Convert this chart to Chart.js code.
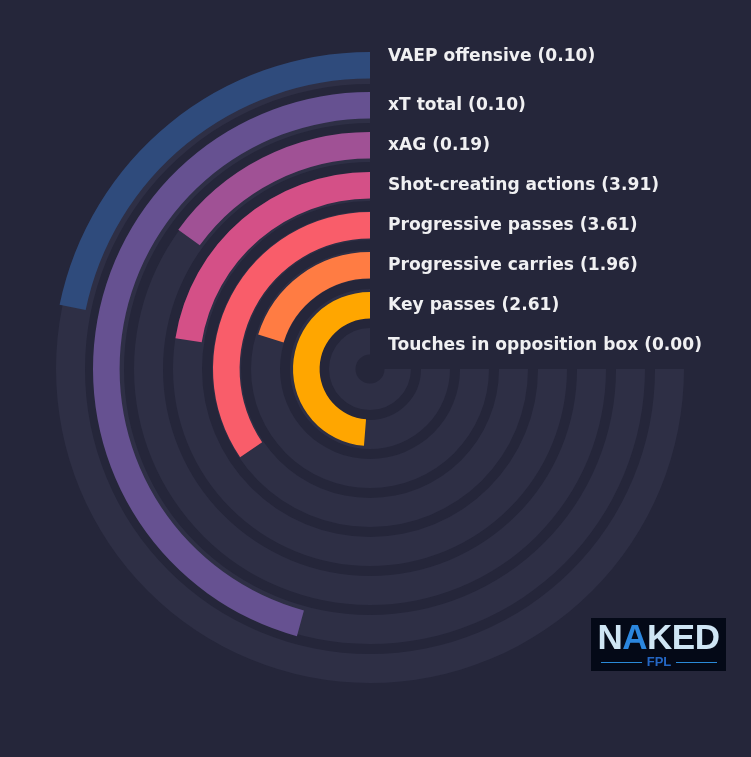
<!DOCTYPE html>
<html>
<head>
<meta charset="utf-8">
<script src="https://cdn.jsdelivr.net/npm/chart.js@4.4.1/dist/chart.umd.min.js"></script>
<style>
    html, body { margin: 0; padding: 0; background: #25263a; }
    #wrap { position: relative; width: 751px; height: 757px; overflow: hidden; background: #25263a; }
    #wrap canvas { position: absolute; left: 0; top: 0; }
    .logo {
        position: absolute; left: 591px; top: 618px; width: 135px; height: 53px;
        background: #040917; font-family: "Liberation Sans", Arial, sans-serif;
    }
    .logo-word {
        position: absolute; left: 5px; top: -1px; width: 125px; text-align: center;
        font-weight: bold; font-size: 35px; color: #cfe5f4; letter-spacing: -0.5px;
    }
    .logo-word .a { color: #2b86de; }
    .logo-sub {
        position: absolute; left: 5px; top: 36px; width: 126px; height: 14px;
        display: flex; align-items: center; justify-content: center;
        font-weight: bold; font-size: 13px; color: #2466c4;
    }
    .logo-sub .line { flex: 1; height: 1px; background: #2a8ad8; margin: 2px 5px 0 5px; }
</style>
</head>
<body>
<div id="wrap">
    <canvas id="track-chart" width="740" height="738"></canvas>
    <canvas id="bar-chart" width="740" height="738"></canvas>
    <div class="logo">
        <div class="logo-word">N<span class="a">A</span>KED</div>
        <div class="logo-sub"><span class="line"></span>FPL<span class="line"></span></div>
    </div>
</div>
<script>
// rings, outermost first
const metricNames = ['VAEP offensive', 'xT total', 'xAG', 'Shot-creating actions', 'Progressive passes', 'Progressive carries', 'Key passes', 'Touches in opposition box'];
const metricValues = ['0.10', '0.10', '0.19', '3.91', '3.61', '1.96', '2.61', '0.00'];
const percentiles = [29, 61, 20, 30, 46, 27, 65, 0];
const ringColors = ['#2f4b7c', '#665191', '#a05195', '#d45087', '#f95d6a', '#ff7c43', '#ffa600', '#003f5c'];

const TRACK_COLOR = '#2e2f45';

// ring geometry (px)
const BAR_OUTER = 317;
const BAR_WIDTH = 26.6;
const BAR_GAP = 13.4;
const TRACK_OUTER = 314;
const TRACK_WIDTH = 29;
const TRACK_GAP = 10;
const TRACK_CORE = 14.5;

function spacer(weight) {
    return { data: [1], backgroundColor: ['rgba(0,0,0,0)'], weight: weight, isSpacer: true };
}

function buildTrackDatasets() {
    const sets = [];
    let inner = TRACK_OUTER;
    percentiles.forEach((p, i) => {
        if (i > 0) {
            sets.push(spacer(TRACK_GAP));
            inner -= TRACK_GAP;
        }
        const last = i === percentiles.length - 1;
        const w = last ? inner - TRACK_CORE : TRACK_WIDTH;
        sets.push({ data: [100], backgroundColor: [TRACK_COLOR], weight: w });
        inner -= w;
    });
    return { sets, inner };
}

function buildBarDatasets() {
    const sets = [];
    let inner = BAR_OUTER;
    percentiles.forEach((p, i) => {
        if (i > 0) {
            sets.push(spacer(BAR_GAP));
            inner -= BAR_GAP;
        }
        sets.push({
            label: metricNames[i],
            ringIndex: i,
            data: [100 - p, p],
            backgroundColor: ['rgba(0,0,0,0)', ringColors[i]],
            weight: BAR_WIDTH
        });
        inner -= BAR_WIDTH;
    });
    return { sets, inner };
}

function ringOptions(outer, inner) {
    return {
        responsive: false,
        animation: false,
        events: [],
        rotation: 90,
        circumference: 270,
        radius: outer,
        cutout: (inner / outer * 100) + '%',
        layout: { padding: 0 },
        elements: { arc: { borderWidth: 0 } },
        plugins: {
            legend: { display: false },
            tooltip: { enabled: false }
        }
    };
}

const ringLabels = {
    id: 'ringLabels',
    afterDatasetsDraw(chart) {
        const ctx = chart.ctx;
        ctx.save();
        ctx.font = 'bold 17.1px "DejaVu Sans"';
        ctx.fillStyle = '#f0f0f2';
        ctx.textAlign = 'left';
        ctx.textBaseline = 'alphabetic';
        chart.data.datasets.forEach((ds, di) => {
            if (ds.isSpacer) return;
            const arc = chart.getDatasetMeta(di).data[1];
            const mid = (arc.outerRadius + arc.innerRadius) / 2;
            // top label sits a little higher than its ring
            const nudge = ds.ringIndex === 0 ? -10 : -1;
            const y = arc.y - mid + nudge + 6;
            ctx.fillText(`${metricNames[ds.ringIndex]} (${metricValues[ds.ringIndex]})`, arc.x + 18, y);
        });
        ctx.restore();
    }
};

const tracks = buildTrackDatasets();
new Chart(document.getElementById('track-chart').getContext('2d'), {
    type: 'doughnut',
    data: { labels: ['track'], datasets: tracks.sets },
    options: ringOptions(TRACK_OUTER, tracks.inner)
});

const bars = buildBarDatasets();
new Chart(document.getElementById('bar-chart').getContext('2d'), {
    type: 'doughnut',
    data: { labels: ['rest', 'value'], datasets: bars.sets },
    options: ringOptions(BAR_OUTER, bars.inner),
    plugins: [ringLabels]
});
</script>
</body>
</html>
